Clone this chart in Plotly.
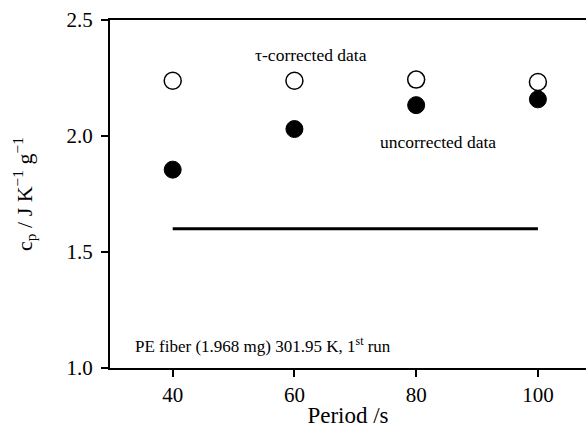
import plotly.graph_objects as go

periods = [40, 60, 80, 100]
cp_corrected = [2.238, 2.238, 2.243, 2.233]
cp_uncorrected = [1.855, 2.03, 2.133, 2.158]
ref_x = [40, 100]
ref_y = [1.6, 1.6]

FONT = "Liberation Serif, Times New Roman, serif"

fig = go.Figure()
fig.add_trace(go.Scatter(x=ref_x, y=ref_y, mode="lines",
                         line=dict(color="black", width=3), showlegend=False))
fig.add_trace(go.Scatter(x=periods, y=cp_corrected, mode="markers",
                         marker=dict(symbol="circle", size=17, color="white",
                                     line=dict(color="black", width=1.5)),
                         showlegend=False))
fig.add_trace(go.Scatter(x=periods, y=cp_uncorrected, mode="markers",
                         marker=dict(symbol="circle", size=17, color="black",
                                     line=dict(color="black", width=1)),
                         showlegend=False))

fig.add_annotation(x=62.7, y=2.35, text="τ-corrected data", showarrow=False,
                   font=dict(family=FONT, size=17.5, color="black"))
fig.add_annotation(x=83.6, y=1.975, text="uncorrected data", showarrow=False,
                   font=dict(family=FONT, size=17.5, color="black"))
fig.add_annotation(x=33.4, y=1.1, text="PE fiber (1.968 mg) 301.95 K, 1<sup>st</sup> run",
                   showarrow=False, xanchor="left",
                   font=dict(family=FONT, size=17, color="black"))

fig.update_layout(
    width=586, height=428,
    margin=dict(l=110, r=0, t=20, b=60),
    plot_bgcolor="white", paper_bgcolor="white",
    font=dict(family=FONT, color="black"),
    xaxis=dict(range=[29.7, 107.9], tickvals=[40, 60, 80, 100], ticks="outside",
               ticklen=7, tickwidth=2, tickcolor="black",
               showline=True, linecolor="black", linewidth=2, mirror=True,
               showgrid=False, zeroline=False,
               tickfont=dict(family=FONT, size=21),
               title=dict(text="Period /s", font=dict(family=FONT, size=23), standoff=6)),
    yaxis=dict(range=[1.0, 2.5], tickvals=[1.0, 1.5, 2.0, 2.5], tickformat=".1f",
               ticks="outside", ticklen=7, tickwidth=2, tickcolor="black",
               showline=True, linecolor="black", linewidth=2, mirror=False,
               showgrid=False, zeroline=False, ticklabelstandoff=4,
               tickfont=dict(family=FONT, size=21),
               title=dict(text="c<sub>p</sub> / J K<sup>−1</sup> g<sup>−1</sup>",
                          font=dict(family=FONT, size=22), standoff=28)),
)

fig.write_html("out.html")
